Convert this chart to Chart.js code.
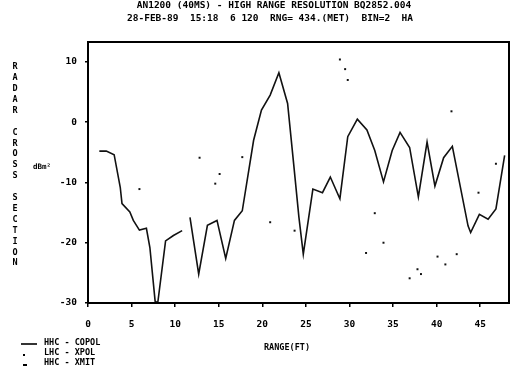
<!DOCTYPE html>
<html>
<head>
<meta charset="utf-8">
<script src="https://cdn.jsdelivr.net/npm/chart.js@4/dist/chart.umd.min.js"></script>
<style>
  html, body { margin: 0; padding: 0; background: #fff; }
  #wrap { width: 513px; height: 380px; }
</style>
</head>
<body>
<div id="wrap"><canvas id="rcschart" width="513" height="380"></canvas></div>
<script>
console.log('RCS chart');

// titles and labels
var titleLines = ['AN1200 (40MS) - HIGH RANGE RESOLUTION BQ2852.004',
                  '28-FEB-89  15:18  6 120  RNG= 434.(MET)  BIN=2  HA'];
var yTitle = 'RADAR CROSS SECTION';
var yUnit = 'dBm²';
var xTitle = 'RANGE(FT)';
var legendLabels = ['HHC - COPOL', 'LHC - XPOL', 'HHC - XMIT'];

// tick labels
var xTicks = [0, 5, 10, 15, 20, 25, 30, 35, 40, 45];
var yTicks = [10, 0, -10, -20, -30];

// copol trace (null = break in the line)
var copolRange = [1.3, 2.1, 3.0, 3.7, 3.9, 4.8, 5.2, 5.9, 6.7, 7.1, 7.7, 8.0, 8.9, 9.8, 10.8, 11.2,
                  11.7, 12.7, 13.7, 14.8, 15.8, 16.8, 17.7, 19.0, 19.9, 20.9, 21.9, 22.9, 23.6, 24.2,
                  24.7, 25.8, 26.9, 27.8, 28.9, 29.8, 30.9, 32.0, 32.9, 33.9, 34.9, 35.8, 36.9, 37.9,
                  38.9, 39.8, 40.8, 41.8, 43.6, 43.9, 44.9, 45.9, 46.8, 47.8];
var copolRcs = [-4.8, -4.8, -5.4, -10.8, -13.5, -14.9, -16.3, -17.9, -17.6, -20.8, -29.7, -30.0, -19.7, -18.8, -18.0, null,
                -15.8, -25.2, -17.1, -16.3, -22.6, -16.3, -14.7, -3.0, 2.0, 4.5, 8.2, 3.1, -7.0, -15.8,
                -21.9, -11.1, -11.7, -9.1, -12.7, -2.4, 0.5, -1.3, -4.7, -9.9, -4.7, -1.7, -4.2, -12.4,
                -3.3, -10.6, -5.9, -4.0, -17.2, -18.3, -15.3, -16.1, -14.4, -5.5];

// xpol dots
var xpolRange = [5.9, 12.8, 14.6, 15.1, 17.7, 20.9, 23.7, 28.9, 29.5, 29.8, 31.9, 32.9, 33.9,
                 36.9, 37.8, 38.2, 40.1, 41.0, 41.7, 42.3, 44.8, 46.8];
var xpolRcs = [-11.1, -5.9, -10.2, -8.6, -5.8, -16.6, -18.0, 10.4, 8.8, 7.0, -21.7, -15.1, -20.0,
               -25.9, -24.4, -25.2, -22.3, -23.6, 1.8, -21.9, -11.7, -6.9];

function pairs(xs, ys) {
    var out = [];
    for (var i = 0; i < xs.length; i++) {
        out.push({ x: xs[i], y: ys[i] });
    }
    return out;
}

var monoBold = "'DejaVu Sans Mono', 'Liberation Mono', monospace";

// frame, titles, stacked y label, legend
var decorPlugin = {
    id: 'decor',
    afterDraw: function(chart) {
        var ctx = chart.ctx;
        var a = chart.chartArea;
        ctx.save();
        ctx.strokeStyle = '#000';
        ctx.lineWidth = 2;
        ctx.strokeRect(a.left, a.top, a.right - a.left, a.bottom - a.top);

        ctx.fillStyle = '#000';
        ctx.textAlign = 'center';
        ctx.textBaseline = 'middle';
        ctx.font = 'bold 9.5px ' + monoBold;
        ctx.fillText(titleLines[0], 274, 6);
        ctx.fillText(titleLines[1], 270, 19);

        ctx.font = 'bold 8.5px ' + monoBold;
        for (var i = 0; i < yTitle.length; i++) {
            ctx.fillText(yTitle[i], 15, 67 + i * 10.9);
        }
        ctx.font = 'bold 7.5px ' + monoBold;
        ctx.fillText(yUnit, 42, 167);

        ctx.font = 'bold 8.5px ' + monoBold;
        ctx.fillText(xTitle, 287, 348);

        // legend
        ctx.textAlign = 'left';
        ctx.lineWidth = 1.6;
        ctx.beginPath();
        ctx.moveTo(21, 344);
        ctx.lineTo(37, 344);
        ctx.stroke();
        ctx.fillRect(23, 354, 2, 2);
        ctx.fillRect(23, 364, 4, 2);
        ctx.fillText(legendLabels[0], 44, 343);
        ctx.fillText(legendLabels[1], 44, 353);
        ctx.fillText(legendLabels[2], 44, 363);
        ctx.restore();
    }
};

var CHART = document.getElementById('rcschart');

var rcsChart = new Chart(CHART, {
    type: 'line',
    data: {
        datasets: [
            {
                label: legendLabels[0],
                data: pairs(copolRange, copolRcs),
                borderColor: '#111',
                borderWidth: 1.6,
                pointRadius: 0,
                tension: 0,
                spanGaps: false,
                fill: false
            },
            {
                label: legendLabels[1],
                data: pairs(xpolRange, xpolRcs),
                showLine: false,
                pointStyle: 'rect',
                pointRadius: 1.4,
                pointBorderWidth: 0,
                backgroundColor: '#111',
                borderColor: '#111'
            }
        ]
    },
    options: {
        responsive: false,
        animation: false,
        events: [],
        layout: { padding: { left: 58, right: 4, top: 42, bottom: 52 } },
        plugins: {
            legend: { display: false },
            tooltip: { enabled: false },
            title: { display: false }
        },
        scales: {
            x: {
                type: 'linear',
                min: 0,
                max: 48.3,
                afterBuildTicks: function(axis) {
                    axis.ticks = xTicks.map(function(v) { return { value: v }; });
                },
                afterFit: function(axis) { axis.height = 25; },
                border: { display: false },
                grid: { drawOnChartArea: false, tickLength: 4, color: '#000', lineWidth: 1.5 },
                ticks: {
                    color: '#000',
                    padding: 12,
                    maxRotation: 0,
                    font: { family: monoBold, size: 9.5, weight: 'bold' }
                }
            },
            y: {
                type: 'linear',
                min: -30,
                max: 13.3,
                afterBuildTicks: function(axis) {
                    axis.ticks = yTicks.map(function(v) { return { value: v }; });
                },
                afterFit: function(axis) { axis.width = 30; },
                border: { display: false },
                grid: { drawOnChartArea: false, tickLength: 3, color: '#000', lineWidth: 1.5 },
                ticks: {
                    color: '#000',
                    padding: 8,
                    font: { family: monoBold, size: 9.5, weight: 'bold' }
                }
            }
        }
    },
    plugins: [decorPlugin]
});
</script>
</body>
</html>
